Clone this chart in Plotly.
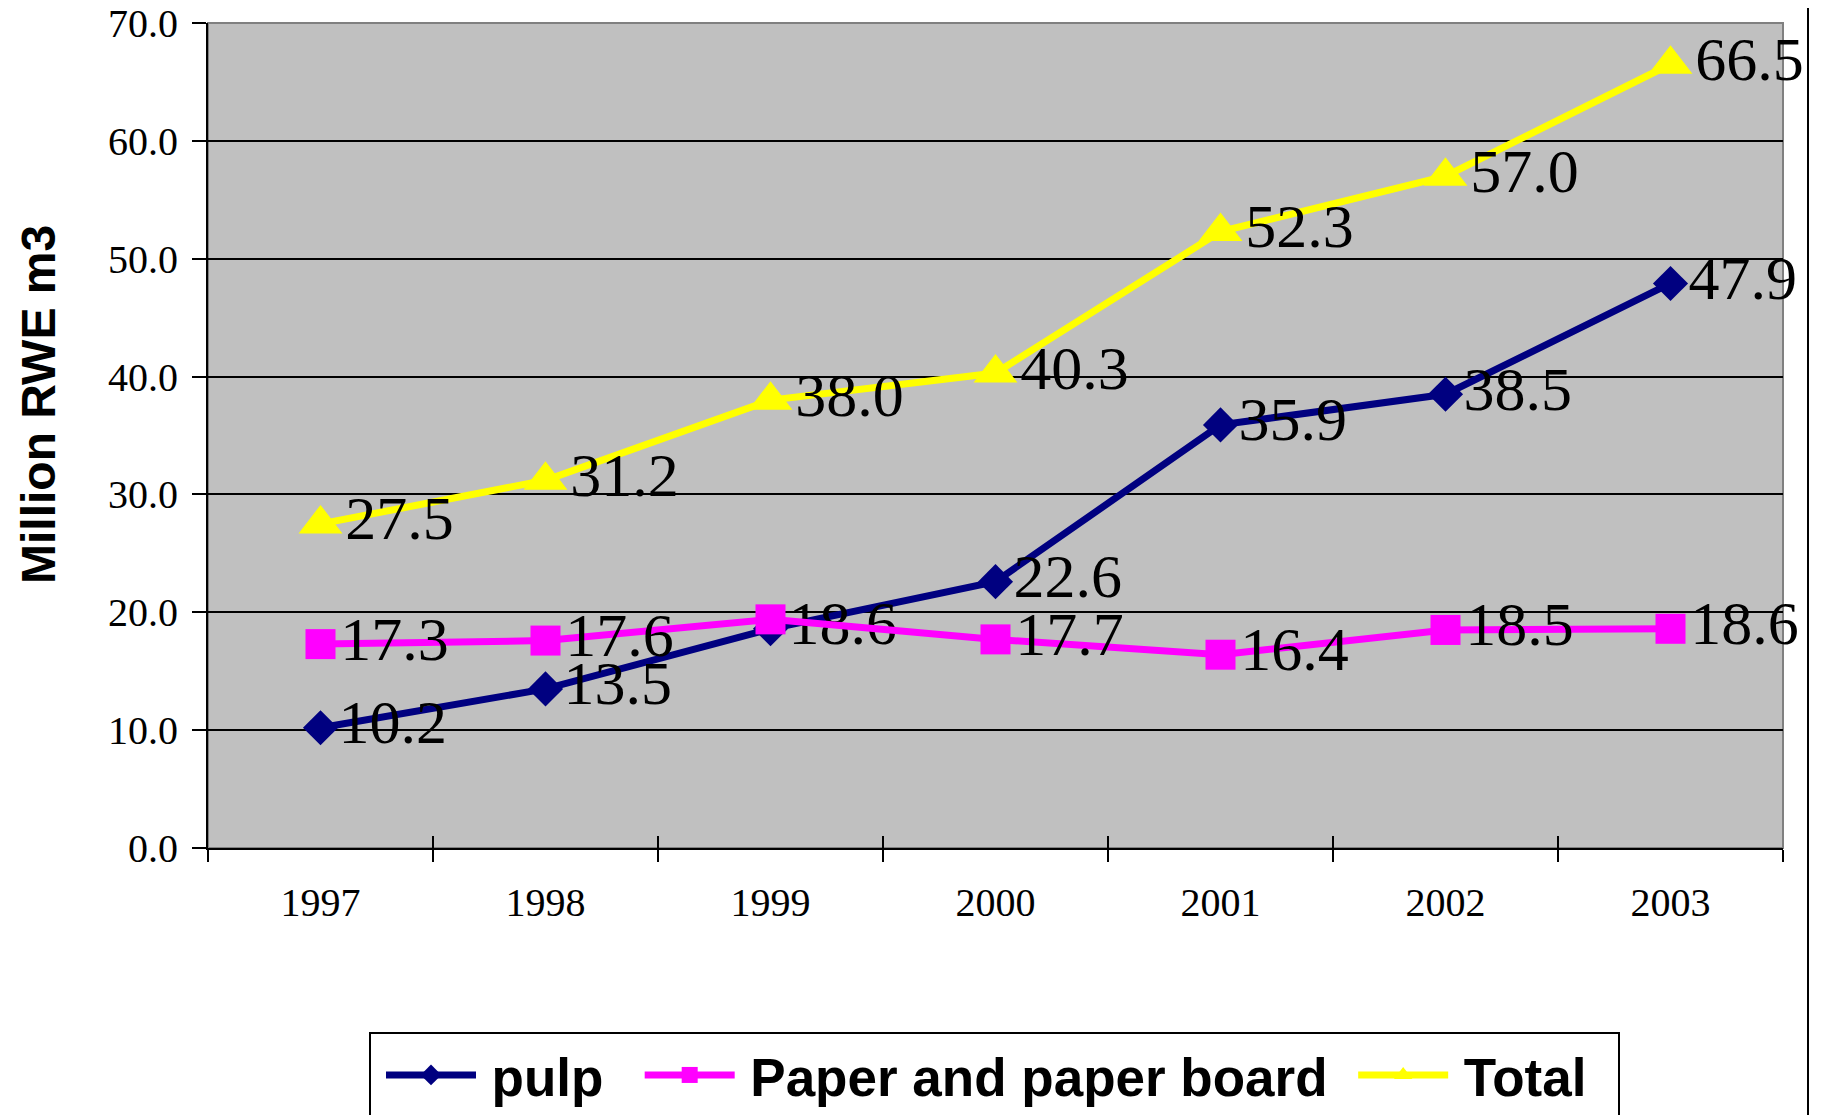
import plotly.graph_objects as go

years = ["1997", "1998", "1999", "2000", "2001", "2002", "2003"]
pulp = [10.2, 13.5, 18.6, 22.6, 35.9, 38.5, 47.9]
paper = [17.3, 17.6, 19.4, 17.7, 16.4, 18.5, 18.6]
# the 1999 paper label is hidden under the pulp label in the original
paper_labels = ["17.3", "17.6", "", "17.7", "16.4", "18.5", "18.6"]
total = [27.5, 31.2, 38.0, 40.3, 52.3, 57.0, 66.5]
series_names = ["pulp", "Paper and paper board", "Total"]

W, H = 1824, 1115
ML, MR, MT, MB = 200, 49, 15, 275
PW, PH = W - ML - MR, H - MT - MB
serif = "Liberation Serif, Times New Roman, serif"
sans = "Liberation Sans, Arial, sans-serif"
GAP = "\u2009"

fig = go.Figure()
label_font = dict(family=serif, size=62, color="black")

fig.add_trace(go.Scatter(
    x=years, y=pulp, name=GAP + series_names[0] + GAP * 2, mode="lines+markers+text",
    line=dict(color="#000080", width=7),
    marker=dict(symbol="diamond", size=27, color="#000080"),
    text=[f"{v:.1f}" for v in pulp], textposition="middle right",
    textfont=label_font, cliponaxis=False,
))
fig.add_trace(go.Scatter(
    x=years, y=paper, name=GAP + series_names[1] + GAP, mode="lines+markers+text",
    line=dict(color="#FF00FF", width=7),
    marker=dict(symbol="square", size=30, color="#FF00FF"),
    text=paper_labels, textposition="middle right",
    textfont=label_font, cliponaxis=False,
))
fig.add_trace(go.Scatter(
    x=years, y=total, name=GAP + series_names[2] + "\u2002", mode="lines+markers+text",
    line=dict(color="#FFFF00", width=7),
    marker=dict(symbol="triangle-up", size=38, color="#FFFF00"),
    text=[f"{v:.1f}" for v in total], textposition="middle right",
    textfont=label_font, cliponaxis=False,
))

n = len(years)
fig.update_layout(
    width=W, height=H,
    margin=dict(l=ML, r=MR, t=MT, b=MB, autoexpand=False),
    paper_bgcolor="white", plot_bgcolor="#C0C0C0",
    showlegend=True,
    xaxis=dict(
        type="category", categoryorder="array", categoryarray=years,
        range=[-0.5, n - 0.5], automargin=False, ticklabeloverflow="allow",
        tickson="boundaries", ticks="outside", ticklen=12, tickwidth=1.5, tickcolor="black",
        showgrid=False, showline=True, linecolor="black", linewidth=2,
        tickfont=dict(family=serif, size=40, color="black"),
        ticklabelstandoff=18,
    ),
    xaxis2=dict(
        overlaying="x", anchor="y", range=[-0.5, n - 0.5], automargin=False,
        tickvals=[i - 0.5 for i in range(n + 1)], ticks="inside", ticklen=12,
        tickwidth=1.5, tickcolor="black", showticklabels=False, showgrid=False,
        showline=False, zeroline=False,
    ),
    yaxis=dict(
        range=[0, 70], dtick=10, tickformat=".1f", automargin=False,
        ticklabeloverflow="allow",
        ticks="outside", ticklen=14, tickwidth=1.5, tickcolor="black",
        showgrid=True, gridcolor="black", gridwidth=1.5,
        showline=True, linecolor="black", linewidth=2, zeroline=False,
        tickfont=dict(family=serif, size=40, color="black"),
        ticklabelstandoff=6,
    ),
    legend=dict(
        orientation="h", xref="container", yref="container",
        x=361 / W, y=1 - 1024 / H, xanchor="left", yanchor="top",
        bgcolor="white", bordercolor="black", borderwidth=2,
        font=dict(family=sans, size=53, color="black", weight="bold"),
        itemwidth=90, indentation=10, tracegroupgap=0,
    ),
    annotations=[dict(
        text="Million RWE m3", textangle=-90, showarrow=False,
        xref="paper", yref="paper",
        x=(30 - ML) / PW, y=1 - (397 - MT) / PH,
        xanchor="center", yanchor="middle",
        font=dict(family=sans, size=48, color="black", weight="bold"),
    )],
    shapes=[
        dict(type="rect", xref="paper", yref="paper", x0=0, x1=1, y0=0, y1=1,
             line=dict(color="#808080", width=2), layer="below"),
        dict(type="line", xref="paper", yref="paper",
             x0=(1800 - ML) / PW, x1=(1800 - ML) / PW,
             y0=-1, y1=2, line=dict(color="black", width=2)),
    ],
)

# empty trace on xaxis2 so the overlay axis (upper half of the x ticks) is drawn
fig.add_trace(go.Scatter(x=[None], y=[None], xaxis="x2", showlegend=False, hoverinfo="skip"))

fig.write_html("out.html")
